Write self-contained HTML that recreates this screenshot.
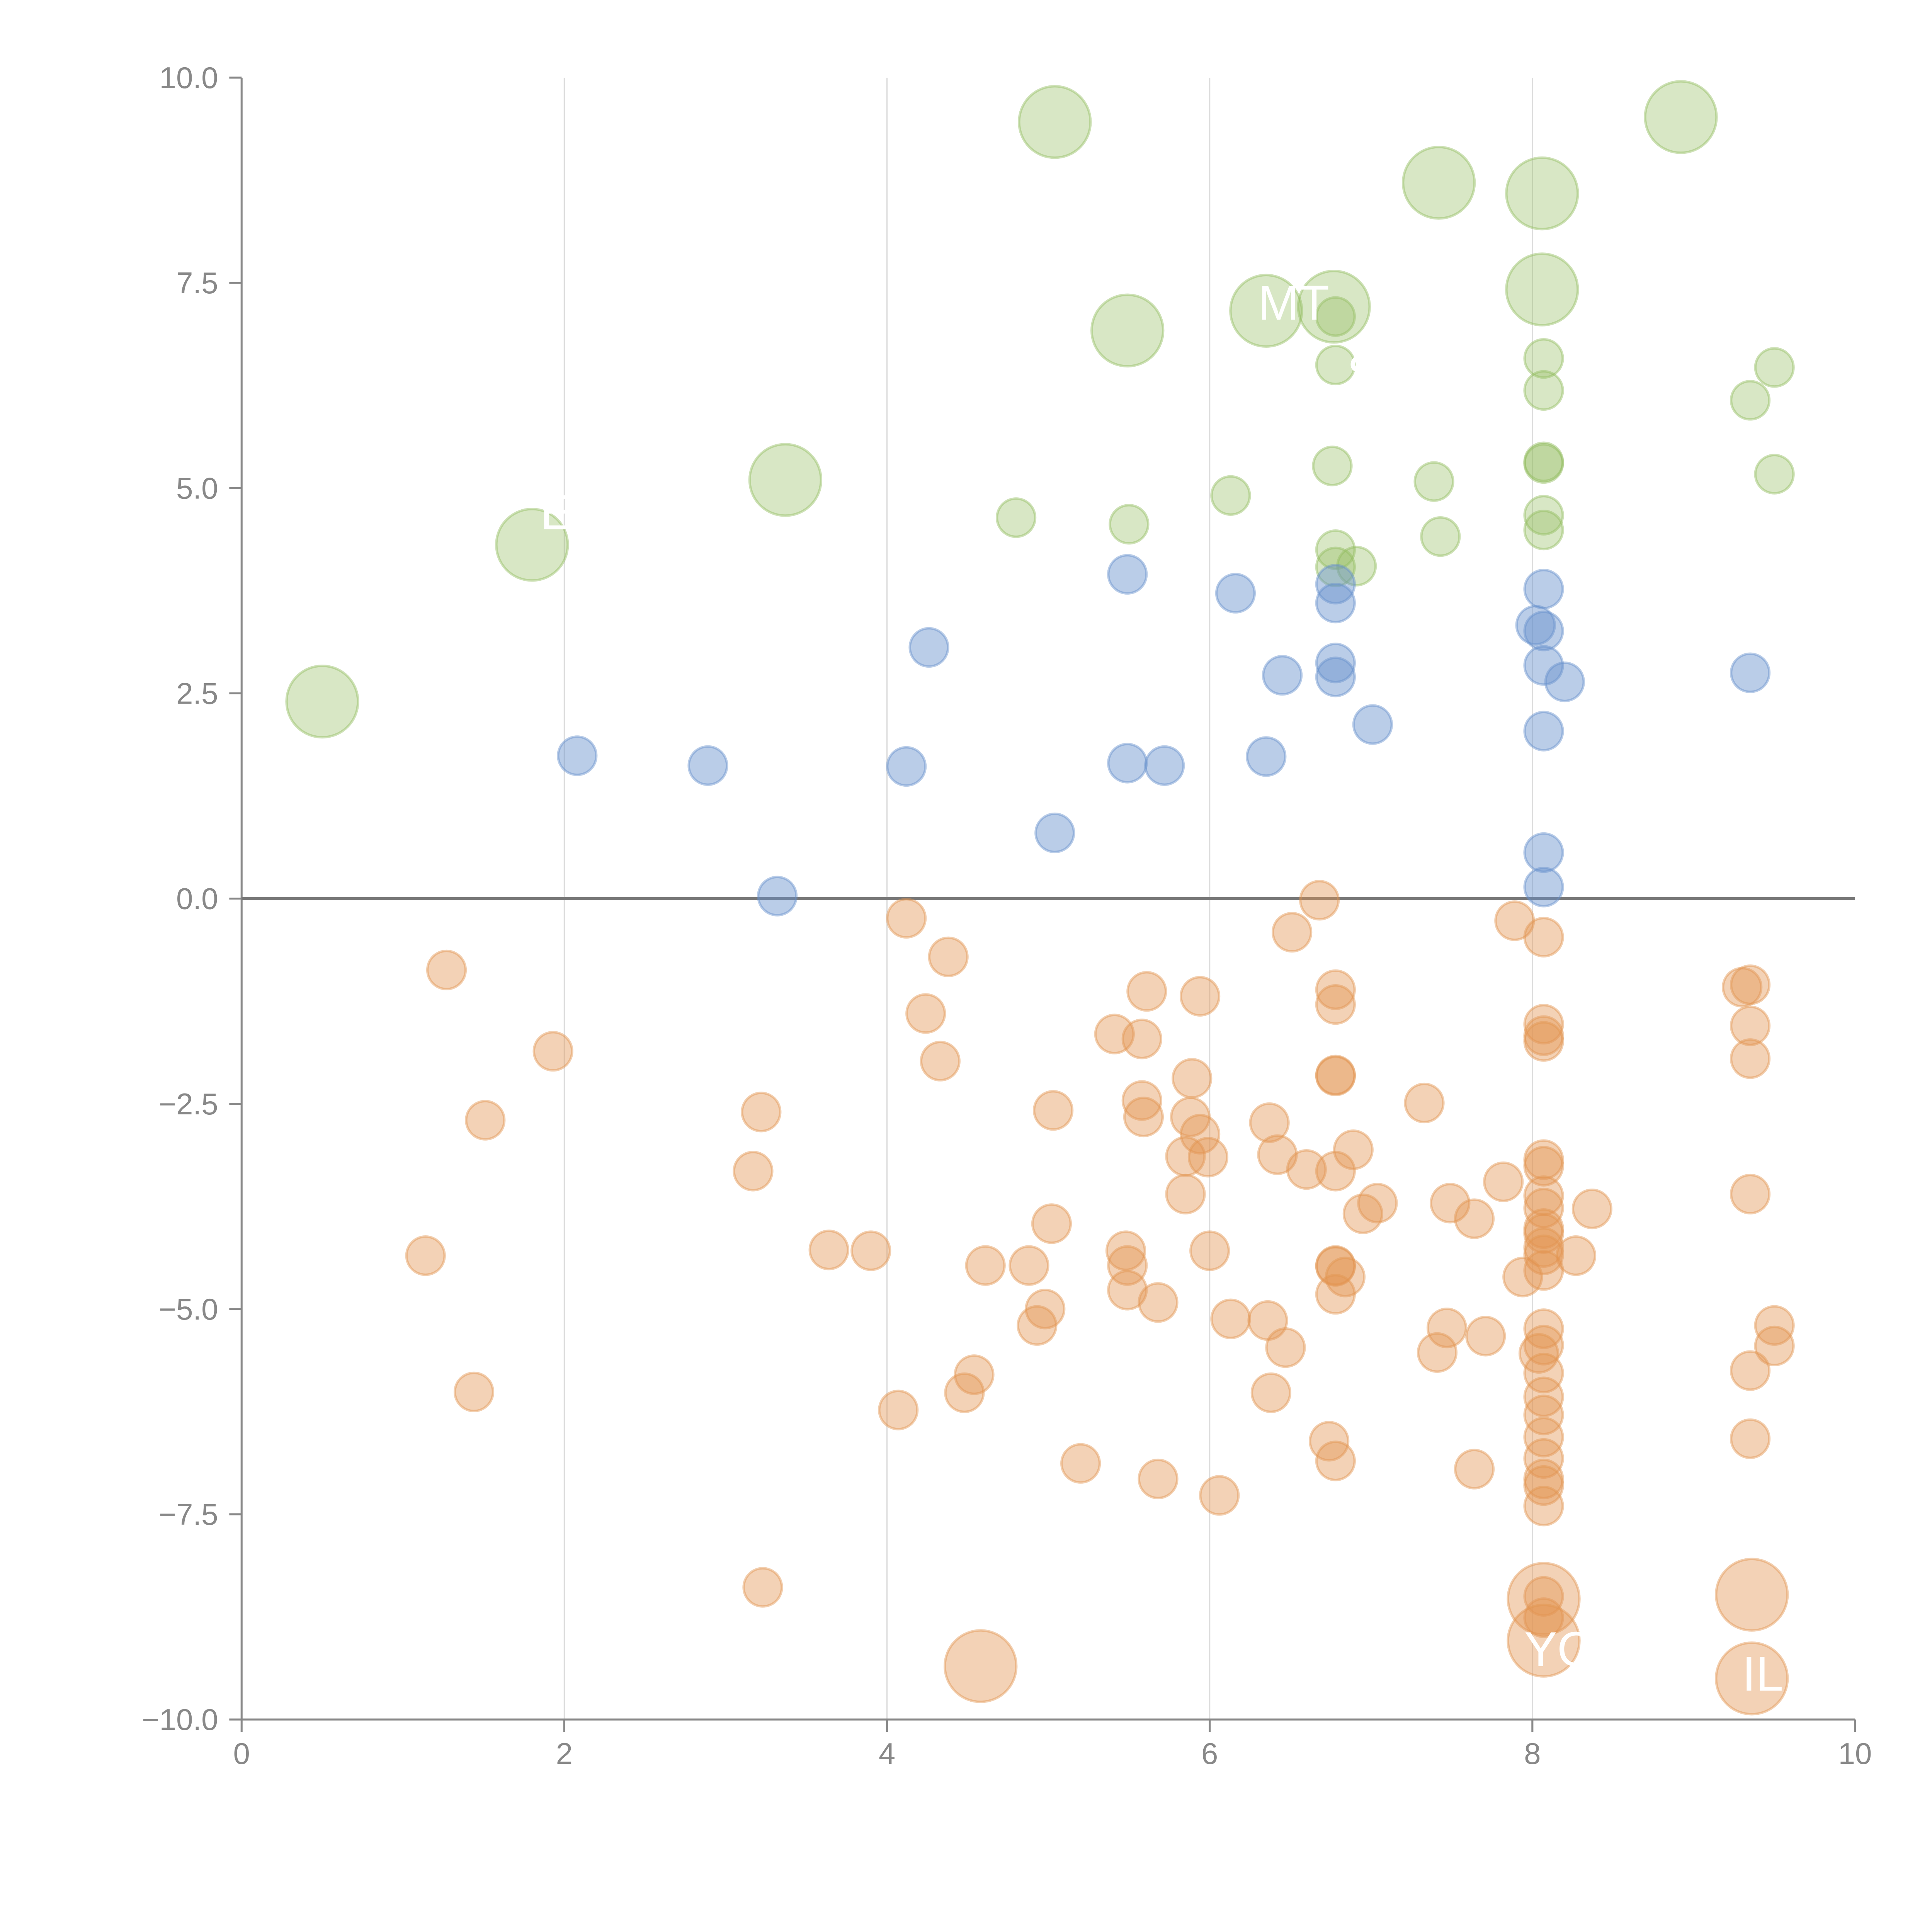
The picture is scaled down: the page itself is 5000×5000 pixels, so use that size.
<!DOCTYPE html>
<html><head><meta charset="utf-8"><style>
html,body{margin:0;padding:0;background:#fff}
svg{display:block}
text{font-family:"Liberation Sans",Arial,sans-serif}
</style></head>
<body>
<svg id="chart" width="5000" height="5000" viewBox="0 0 1567.4 1567.4" xmlns="http://www.w3.org/2000/svg">
<g id="grid"></g>
<g id="axes"></g>
<g id="marks"></g>
<g id="labels"></g>
</svg>
<script>
const xTicks = [0, 2, 4, 6, 8, 10];
const yTicks = [10, 7.5, 5, 2.5, 0, -2.5, -5, -7.5, -10];
const yTickLabels = ["10.0", "7.5", "5.0", "2.5", "0.0", "\u22122.5", "\u22125.0", "\u22127.5", "\u221210.0"];

const greenX = [0.50,1.80,3.37,5.04,5.49,6.35,6.77,7.42,8.06,8.06,8.92,
  6.78,6.78,8.07,8.07,9.35,9.50,9.50,6.76,8.07,8.07,7.39,6.13,4.80,5.50,7.43,8.07,8.07,6.78,6.78,6.91];
const greenY = [2.40,4.31,5.10,9.46,6.92,7.16,7.21,8.72,8.59,7.42,9.52,
  7.09,6.50,6.58,6.19,6.07,6.47,5.17,5.27,5.32,5.30,5.08,4.91,4.64,4.56,4.41,4.67,4.49,4.25,4.04,4.05];
const greenSize = [35,35,35,35,35,35,35,35,35,35,35,
  10,10,10,10,10,10,10,10,10,10,10,10,10,10,10,10,10,10,10,10];

const blueX = [5.49,6.16,6.78,6.78,8.07,8.02,8.07,4.26,6.78,6.78,6.45,8.07,8.20,9.35,7.01,8.07,2.08,2.89,4.12,5.49,5.72,6.35,5.04,8.07,8.07,3.32];
const blueY = [3.95,3.72,3.83,3.60,3.77,3.33,3.26,3.06,2.87,2.70,2.72,2.84,2.64,2.75,2.12,2.04,1.74,1.62,1.61,1.65,1.62,1.73,0.80,0.56,0.14,0.03];

const orangeX = [6.68,4.12,7.89,8.07,6.51,4.38,1.27,9.30,9.35,5.61,5.94,6.78,6.78,4.24,8.07,9.35,5.41,5.58,8.07,8.07,
  1.93,4.33,9.35,5.89,6.78,6.78,7.33,5.58,3.22,5.03,5.59,5.88,1.51,6.37,5.94,6.89,5.85,5.99,6.42,8.07,
  8.07,3.17,6.60,6.78,7.82,5.85,9.35,8.07,7.04,7.49,8.07,6.95,7.64,8.37,5.02,8.07,8.07,1.14,3.64,3.90,
  5.48,6.00,8.07,8.07,8.27,4.61,4.88,5.49,6.78,6.78,6.84,8.07,7.94,6.78,5.49,5.68,4.98,4.93,6.13,6.36,
  7.47,8.07,9.50,7.71,8.07,6.47,9.50,7.41,8.04,4.54,8.07,9.35,1.44,4.48,6.38,8.07,4.07,8.07,6.74,8.07,
  9.35,8.07,6.78,5.20,7.64,8.07,8.07,5.68,6.06,8.07,3.23,8.07,8.07,
  4.58,8.07,8.07,9.36,9.36];
const orangeY = [-0.02,-0.24,-0.27,-0.47,-0.41,-0.71,-0.87,-1.08,-1.05,-1.13,-1.19,-1.11,-1.29,-1.40,-1.53,-1.55,-1.65,-1.71,-1.67,-1.74,
  -1.86,-1.98,-1.95,-2.19,-2.15,-2.16,-2.49,-2.46,-2.60,-2.58,-2.66,-2.66,-2.70,-2.73,-2.87,-3.06,-3.14,-3.15,-3.12,-3.18,
  -3.26,-3.32,-3.30,-3.32,-3.45,-3.60,-3.60,-3.62,-3.71,-3.71,-3.77,-3.84,-3.90,-3.78,-3.96,-4.02,-4.08,-4.35,-4.28,-4.29,
  -4.29,-4.29,-4.25,-4.34,-4.35,-4.47,-4.47,-4.47,-4.47,-4.48,-4.61,-4.53,-4.61,-4.82,-4.77,-4.92,-5.00,-5.20,-5.12,-5.14,
  -5.23,-5.24,-5.20,-5.33,-5.44,-5.47,-5.45,-5.53,-5.54,-5.80,-5.78,-5.75,-6.01,-6.02,-6.02,-6.07,-6.23,-6.29,-6.61,-6.56,
  -6.58,-6.82,-6.85,-6.88,-6.95,-7.07,-7.15,-7.07,-7.27,-7.40,-8.39,-8.50,-8.76,
  -9.35,-8.53,-9.04,-8.48,-9.50];
const orangeSize = orangeX.map((v,i)=> i >= orangeX.length-5 ? 35 : 10);
const blueSize = blueX.map(()=>10);

const labelText = ["MT", "C", "S", "E", "YO", "IL"];
const labelX = [6.30, 6.95, 6.85, 1.85, 7.95, 9.30];
const labelY = [7.05, 7.40, 6.20, 4.50, -9.35, -9.65];

const NS = "http://www.w3.org/2000/svg";
const X0 = 196, X1 = 1505, Y0 = 1395, Y1 = 63;
const sx = v => X0 + (v - 0) / 10 * (X1 - X0);
const sy = v => Y0 - (v + 10) / 20 * (Y0 - Y1);
const sr = s => Math.sqrt(s) * 4.9;
function mk(tag, attrs, parent) {
  const e = document.createElementNS(NS, tag);
  for (const k in attrs) e.setAttribute(k, attrs[k]);
  parent.appendChild(e);
  return e;
}
const grid = document.getElementById('grid');
const axes = document.getElementById('axes');
const marks = document.getElementById('marks');
const labels = document.getElementById('labels');

xTicks.forEach(t => {
  if (t > 0 && t < 10) {
    const g = mk('line', {x1: sx(t), x2: sx(t), y1: Y1, y2: Y0, stroke: '#dcdcdc', 'stroke-width': 1}, grid);
    
    
  }
  const tk = mk('line', {x1: sx(t), x2: sx(t), y1: Y0, y2: Y0 + 10, stroke: '#888', 'stroke-width': 1.6}, axes);
  
  
  const tl = mk('text', {x: sx(t), y: Y0 + 36, 'text-anchor': 'middle', 'font-size': 24.5, fill: '#888'}, axes);
  tl.textContent = String(t);
  
  
});
yTicks.forEach((t, i) => {
  const tk = mk('line', {x1: X0 - 10, x2: X0, y1: sy(t), y2: sy(t), stroke: '#888', 'stroke-width': 1.6}, axes);
  
  
  const tl = mk('text', {x: X0 - 19, y: sy(t) + 8.5, 'text-anchor': 'end', 'font-size': 24.5, fill: '#888'}, axes);
  tl.textContent = yTickLabels[i];
  
  
});
const ya = mk('line', {x1: X0, x2: X0, y1: Y1, y2: Y0, stroke: '#888', 'stroke-width': 1.6}, axes);


const xa = mk('line', {x1: X0, x2: X1, y1: Y0, y2: Y0, stroke: '#888', 'stroke-width': 1.6}, axes);



function series(xs, ys, ss, color, name, op) {
  xs.forEach((v, i) => {
    const c = mk('circle', {cx: sx(v), cy: sy(ys[i]), r: sr(ss[i]), fill: color, 'fill-opacity': op, stroke: color, 'stroke-opacity': 0.45, 'stroke-width': 2}, marks);
    
    
  });
}
series(greenX, greenY, greenSize, '#93bd5f', 'green-bubble', 0.36);
series(blueX, blueY, blueSize, '#6690cc', 'blue-bubble', 0.45);
series(orangeX, orangeY, orangeSize, '#e39450', 'orange-bubble', 0.42);

const zl = mk('line', {x1: X0, x2: X1, y1: sy(0), y2: sy(0), stroke: '#777', 'stroke-width': 2.5}, axes);



labelText.forEach((t, i) => {
  const tx = mk('text', {x: sx(labelX[i]), y: sy(labelY[i]), 'font-size': 40, fill: '#fff'}, labels);
  tx.textContent = t;
  
  
});
</script>
</body></html>
